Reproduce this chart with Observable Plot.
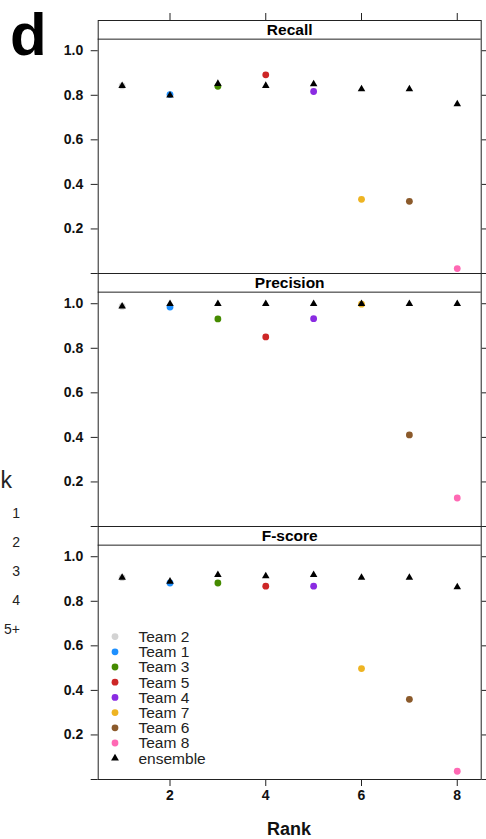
<!DOCTYPE html>
<html>
<head>
<meta charset="utf-8">
<script src="https://cdn.jsdelivr.net/npm/d3@7"></script>
<script src="https://cdn.jsdelivr.net/npm/@observablehq/plot@0.6"></script>
<style>
  html, body { margin: 0; padding: 0; background: #fff; }
  #chart { position: relative; width: 486px; height: 839px; }
  #chart svg { font-family: "Liberation Sans", Arial, Helvetica, sans-serif; }
  #chart g[aria-label="y-axis tick label"], #chart g[aria-label="x-axis tick label"] {
    font-size: 14px; font-weight: bold;
  }
</style>
</head>
<body>
<div id="chart"></div>
<script>
// ---- data ----
const metrics = ["Recall", "Precision", "F-score"];
const ranks = [1, 2, 3, 4, 5, 6, 7, 8];
const teams = ["Team 2", "Team 1", "Team 3", "Team 5", "Team 4", "Team 7", "Team 6", "Team 8"]; // team at each rank
const teamColors = ["#d3d3d3", "#1e90ff", "#458b00", "#cd2626", "#8a2be2", "#eeb422", "#8b5a2b", "#ff69b4"];
const recallTeam        = [0.842, 0.803, 0.840, 0.892, 0.817, 0.333, 0.324, 0.022];
const recallEnsemble    = [0.842, 0.800, 0.852, 0.843, 0.850, 0.828, 0.828, 0.760];
const precisionTeam     = [0.988, 0.985, 0.932, 0.851, 0.933, 0.998, 0.411, 0.128];
const precisionEnsemble = [0.988, 1.000, 1.000, 1.000, 1.000, 1.000, 1.000, 1.000];
const fscoreTeam        = [0.906, 0.882, 0.882, 0.868, 0.868, 0.498, 0.360, 0.037];
const fscoreEnsemble    = [0.906, 0.889, 0.919, 0.913, 0.919, 0.906, 0.906, 0.864];
const xTicks = [2, 4, 6, 8];
const yTicks = [0, 0.2, 0.4, 0.6, 0.8, 1.0];
const legendLabels = [...teams, "ensemble"];
const kLevels = ["1", "2", "3", "4", "5+"];

// ---- tables built from the arrays ----
const teamValues = {"Recall": recallTeam, "Precision": precisionTeam, "F-score": fscoreTeam};
const ensValues = {"Recall": recallEnsemble, "Precision": precisionEnsemble, "F-score": fscoreEnsemble};
const teamRows = [], ensRows = [];
for (const m of metrics) {
  ranks.forEach((r, i) => {
    teamRows.push({metric: m, rank: r, team: teams[i], value: teamValues[m][i]});
    ensRows.push({metric: m, rank: r, value: ensValues[m][i]});
  });
}

const Y_TOP = 1.1357;      // y extent incl. strip
const STRIP_Y = 1.052;     // strip separator
const FONT = "Liberation Sans, Arial, Helvetica, sans-serif";
const INK = "#222";

const svg = Plot.plot({
  width: 486,
  height: 839,
  marginLeft: 97.7,
  marginRight: 5.3,
  marginTop: 19,
  marginBottom: 59.3,
  style: {fontFamily: FONT, fontSize: "14px", background: "#fff", color: INK},
  x: {domain: [0.5, 8.5]},
  y: {domain: [0, Y_TOP]},
  fy: {domain: metrics, axis: null, padding: 0},
  color: {domain: teams, range: teamColors},
  marks: [
    Plot.ruleY([STRIP_Y], {stroke: INK, strokeWidth: 1}),
    Plot.text(metrics, {fy: d => d, text: d => d, frameAnchor: "top", lineAnchor: "middle", dy: 9.6,
      fontWeight: "bold", fontSize: 15.5, fill: "#000"}),
    Plot.axisY({anchor: "left", ticks: yTicks, tickFormat: d => d === 0 ? "" : d.toFixed(1),
      tickSize: 7, tickPadding: 8, label: null, fontWeight: "bold", fontSize: 14, stroke: INK, fill: "#111"}),
    Plot.axisY({anchor: "right", ticks: yTicks, tickFormat: () => "", tickSize: 6, label: null, stroke: INK}),
    Plot.axisX({anchor: "top", ticks: xTicks, tickFormat: () => "", tickSize: 8, label: null, stroke: INK}),
    Plot.axisX({anchor: "bottom", ticks: xTicks, tickFormat: d => String(d), tickSize: 7, tickPadding: 4,
      label: null, fontWeight: "bold", fontSize: 14, stroke: INK, fill: "#111"}),
    Plot.dot(teamRows, {x: "rank", y: "value", fy: "metric", fill: "team", r: 3.4}),
    Plot.dot(ensRows, {x: "rank", y: "value", fy: "metric", symbol: "triangle", fill: "#000", r: 2.8}),
    Plot.frame({stroke: INK, strokeWidth: 1})
  ]
});
document.getElementById("chart").appendChild(svg);

// ---- annotations: panel letter, axis title, k legend, team legend ----
const s = d3.select(svg);
const txt = (x, y, t, size, anchor, weight, fill) =>
  s.append("text").attr("x", x).attr("y", y).attr("text-anchor", anchor)
    .attr("font-family", FONT).attr("font-size", size).attr("font-weight", weight)
    .attr("fill", fill).text(t);

txt(10, 54.5, "d", 60, "start", "bold", "#000");
txt(289, 835, "Rank", 18, "middle", "bold", "#111");
txt(0.5, 488.3, "k", 23, "start", "normal", INK);
kLevels.forEach((t, i) => txt(20, 517.6 + i * 29.2, t, 14, "end", "normal", INK));

legendLabels.forEach((t, i) => {
  const cy = 636.6 + i * 15.2;
  if (i < teams.length) {
    s.append("circle").attr("cx", 115).attr("cy", cy).attr("r", 3.4).attr("fill", teamColors[i]);
  } else {
    s.append("path").attr("transform", `translate(115,${cy})`)
      .attr("d", d3.symbol(d3.symbolTriangle, Math.PI * 2.9 * 2.9)()).attr("fill", "#000");
  }
  txt(138.5, cy + 5.4, t, 15.5, "start", "normal", INK);
});
</script>
</body>
</html>
